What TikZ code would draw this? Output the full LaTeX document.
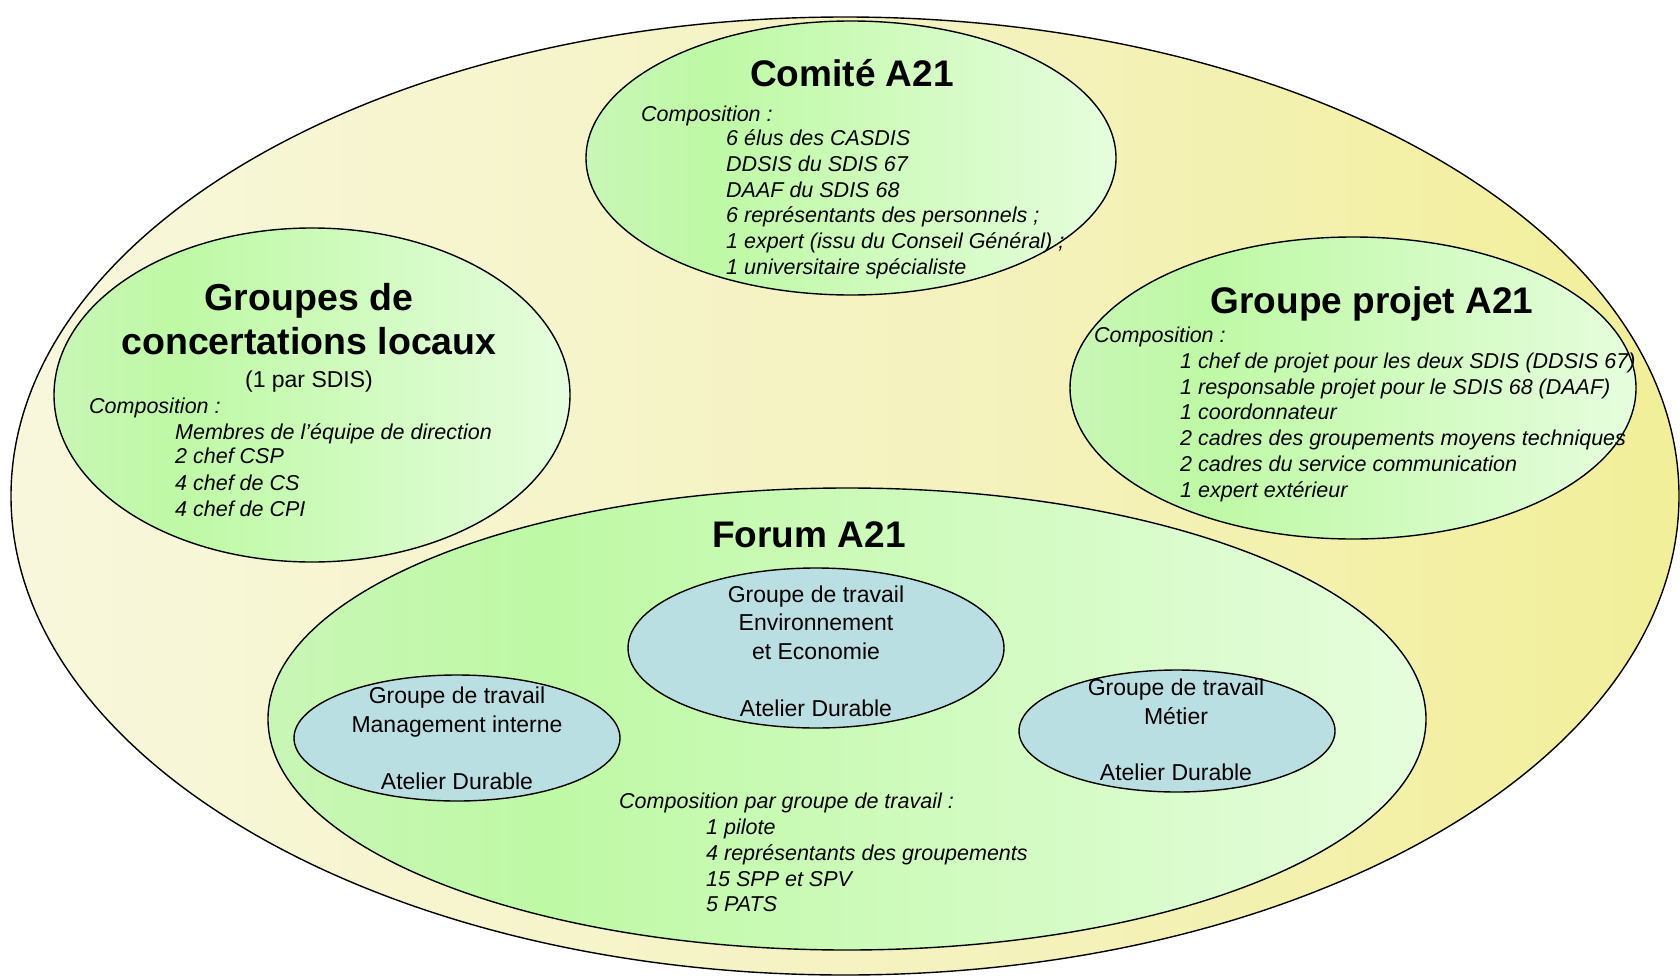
\documentclass[tikz,border=0pt]{standalone}
\usepackage{fontspec}
\setmainfont{Liberation Sans}
\definecolor{outerL}{HTML}{F8F7DC}
\definecolor{outerM}{HTML}{F4F2BC}
\definecolor{outerR}{HTML}{F2EF99}
\definecolor{grnE}{HTML}{C9F6B6}
\definecolor{grnL}{HTML}{BEF9A5}
\definecolor{grnR}{HTML}{E6FDDD}
\definecolor{wgBlue}{HTML}{B9DFE3}
% path bounding box spans 25bp..75bp of a horizontal shading
\pgfdeclarehorizontalshading{greenfade}{100bp}{color(0bp)=(grnE); color(25bp)=(grnE); color(37bp)=(grnL); color(75bp)=(grnR); color(100bp)=(grnR)}
\pgfdeclarehorizontalshading{creamfade}{100bp}{color(0bp)=(outerL); color(25bp)=(outerL); color(55bp)=(outerM); color(75bp)=(outerR); color(100bp)=(outerR)}
\tikzset{
  zone/.style={draw=black, line width=1.4pt},
  greenzone/.style={zone, shade, shading=greenfade},
  bluezone/.style={zone, fill=wgBlue},
  title/.style={font=\fontsize{37}{45}\selectfont\bfseries, inner sep=0pt, anchor=base},
  item/.style={font=\fontsize{21.5}{25.5}\selectfont\itshape, inner sep=0pt, anchor=base west},
  plain/.style={font=\fontsize{23}{29}\selectfont, inner sep=0pt, anchor=base},
}
\begin{document}
\begin{tikzpicture}[x=1pt,y=-1pt]
\useasboundingbox (0,0) rectangle (1680,977);

% outer area
\path[zone, shade, shading=creamfade] (845,496) ellipse [x radius=834pt, y radius=479pt];

% the four bodies
\path[greenzone] (851,158) ellipse [x radius=265pt, y radius=137pt];
\path[greenzone] (312,395) ellipse [x radius=258pt, y radius=167pt];
\path[greenzone] (1353,388) ellipse [x radius=283pt, y radius=151pt];
\path[greenzone] (847,719) ellipse [x radius=579pt, y radius=231pt];

% working groups
\path[bluezone] (816,648) ellipse [x radius=188pt, y radius=80pt];
\path[bluezone] (457,738) ellipse [x radius=163pt, y radius=63pt];
\path[bluezone] (1177,731) ellipse [x radius=158pt, y radius=61pt];

% Comité A21
\node[title] (comT) at (852,86) {Comité A21};
\node[item] (comC) at (641,121) {Composition :};
\node[item] (com1) at (726,145) {6 élus des CASDIS};
\node[item] (com2) at (726,171) {DDSIS du SDIS 67};
\node[item] (com3) at (726,197) {DAAF du SDIS 68};
\node[item] (com4) at (726,222) {6 représentants des personnels ;};
\node[item] (com5) at (726,248) {1 expert (issu du Conseil Général) ;};
\node[item] (com6) at (726,274) {1 universitaire spécialiste};

% Groupes de concertations locaux
\node[title, font=\fontsize{37.5}{45}\selectfont\bfseries] (gclT1) at (309,310) {Groupes de};
\node[title, font=\fontsize{37.5}{45}\selectfont\bfseries] (gclT2) at (309,354) {concertations locaux};
\node[plain] (gclS) at (309,387) {(1 par SDIS)};
\node[item] (gclC) at (89,413) {Composition :};
\node[item] (gcl1) at (175,439) {Membres de l’équipe de direction};
\node[item] (gcl2) at (175,463) {2 chef CSP};
\node[item] (gcl3) at (175,490) {4 chef de CS};
\node[item] (gcl4) at (175,516) {4 chef de CPI};

% Groupe projet A21
\node[title] (gpT) at (1372,313) {Groupe projet A21};
\node[item] (gpC) at (1094,342) {Composition :};
\node[item] (gp1) at (1180,368) {1 chef de projet pour les deux SDIS (DDSIS 67)};
\node[item] (gp2) at (1180,394) {1 responsable projet pour le SDIS 68 (DAAF)};
\node[item] (gp3) at (1180,419) {1 coordonnateur};
\node[item] (gp4) at (1180,445) {2 cadres des groupements moyens techniques};
\node[item] (gp5) at (1180,471) {2 cadres du service communication};
\node[item] (gp6) at (1180,497) {1 expert extérieur};

% Forum A21
\node[title] (foT) at (809,547) {Forum A21};
\node[plain] (env1) at (816,602) {Groupe de travail};
\node[plain] (env2) at (816,630) {Environnement};
\node[plain] (env3) at (816,659) {et Economie};
\node[plain] (env4) at (816,716) {Atelier Durable};
\node[plain] (mgt1) at (457,703) {Groupe de travail};
\node[plain] (mgt2) at (457,732) {Management interne};
\node[plain] (mgt3) at (457,789) {Atelier Durable};
\node[plain] (met1) at (1176,695) {Groupe de travail};
\node[plain] (met2) at (1176,724) {Métier};
\node[plain] (met3) at (1176,780) {Atelier Durable};
\node[item] (foC) at (619,808) {Composition par groupe de travail :};
\node[item] (fo1) at (706,834) {1 pilote};
\node[item] (fo2) at (706,860) {4 représentants des groupements};
\node[item] (fo3) at (706,886) {15 SPP et SPV};
\node[item] (fo4) at (706,911) {5 PATS};
\end{tikzpicture}
\end{document}
